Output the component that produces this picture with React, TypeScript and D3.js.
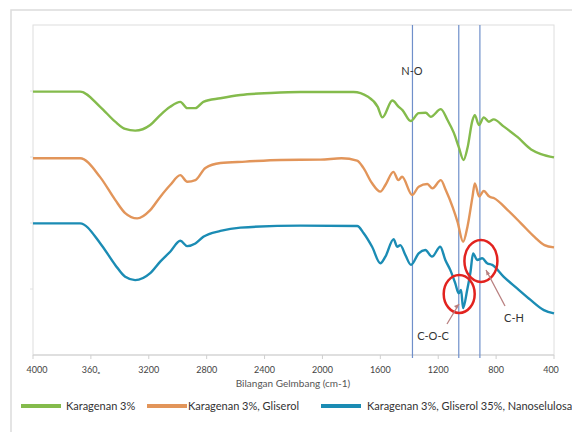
import React from "react";
import * as d3 from "d3";

// wavenumber (cm-1) and relative transmittance (arbitrary units)
const greenWn = [4000, 3675, 3536, 3432, 3363, 3294, 3190, 3121, 3052, 2982, 2934, 2878, 2823, 2705, 2567, 2359, 2152, 2013, 1785, 1688, 1618, 1586, 1517, 1473, 1447, 1390, 1335, 1286, 1252, 1182, 1136, 1092, 1058, 1025, 998, 963, 947, 919, 885, 850, 817, 746, 651, 558, 490, 400];
const greenT = [79.8, 79.8, 75.2, 70.7, 68.5, 68.0, 69.7, 72.7, 75.2, 76.7, 74.8, 74.8, 76.7, 77.8, 78.8, 79.4, 79.7, 79.7, 79.7, 78.3, 75.2, 72.0, 77.1, 75.2, 74.2, 70.9, 73.3, 73.4, 72.2, 74.5, 71.2, 67.3, 63.0, 59.1, 62.7, 71.2, 72.7, 69.7, 72.0, 70.7, 71.4, 69.2, 66.0, 62.3, 60.9, 59.9];

const orangeWn = [4000, 3675, 3536, 3432, 3363, 3280, 3190, 3121, 3052, 2982, 2934, 2878, 2809, 2705, 2532, 2290, 2013, 1868, 1761, 1717, 1658, 1600, 1565, 1510, 1475, 1450, 1380, 1335, 1275, 1240, 1182, 1148, 1101, 1067, 1028, 998, 963, 947, 917, 886, 847, 813, 720, 628, 535, 466, 400];
const orangeT = [59.6, 59.6, 53.9, 47.0, 43.0, 41.4, 43.9, 47.9, 51.5, 54.5, 52.5, 53.0, 56.7, 58.2, 58.6, 59.1, 59.2, 59.6, 58.9, 56.7, 52.1, 49.5, 51.5, 55.5, 53.0, 54.0, 48.5, 51.0, 51.8, 50.5, 53.0, 50.0, 44.9, 40.4, 34.3, 38.9, 48.0, 52.0, 48.0, 49.7, 48.0, 47.5, 43.9, 39.9, 35.8, 33.3, 32.6];

const blueWn = [4000, 3675, 3536, 3432, 3363, 3294, 3190, 3121, 3052, 2982, 2934, 2878, 2823, 2705, 2567, 2152, 1760, 1715, 1657, 1600, 1565, 1508, 1484, 1462, 1427, 1388, 1335, 1289, 1243, 1186, 1151, 1117, 1082, 1059, 1042, 1028, 1000, 977, 959, 931, 896, 862, 827, 747, 655, 562, 470, 400];
const blueT = [39.9, 39.9, 33.9, 27.3, 23.7, 22.7, 24.8, 28.3, 31.3, 34.6, 33.0, 33.8, 35.8, 37.6, 38.6, 39.2, 39.1, 36.9, 32.8, 27.8, 29.8, 35.1, 32.8, 33.3, 30.3, 27.3, 30.8, 31.8, 29.8, 32.8, 28.8, 25.8, 21.7, 18.7, 19.7, 14.2, 19.7, 25.2, 30.8, 28.8, 29.3, 27.8, 27.3, 23.7, 20.2, 16.7, 13.6, 12.6];

const seriesNames = ["Karagenan 3%", "Karagenan 3%, Gliserol", "Karagenan 3%, Gliserol 35%, Nanoselulosa"];
const seriesColors = ["#84bb4c", "#e2955a", "#1b8cb4"];

const xTicks = [4000, 3600, 3200, 2800, 2400, 2000, 1600, 1200, 800, 400];
const xTickLabels = ["4000", "360\u2093", "3200", "2800", "2400", "2000", "1600", "1200", "800", "400"];
const markerLines = [1378, 1058, 912];
const xTitle = "Bilangan Gelmbang (cm-1)";

const W = 572, H = 432;
const L = 33, R = 554, T = 25, B = 355;
const FONT = "Lato, 'Open Sans', sans-serif";

export default function App() {
  const x = d3.scaleLinear().domain([4000, 400]).range([L, R]);
  const y = d3.scaleLinear().domain([0, 100]).range([B, T]);
  const line = d3
    .line<[number, number]>()
    .x((d) => x(d[0]))
    .y((d) => y(d[1]))
    .curve(d3.curveMonotoneX);

  const series = [
    greenWn.map((w, i) => [w, greenT[i]] as [number, number]),
    orangeWn.map((w, i) => [w, orangeT[i]] as [number, number]),
    blueWn.map((w, i) => [w, blueT[i]] as [number, number]),
  ];

  const gridY = [20, 40, 60, 80];

  const legendItems = [
    { sx: 21, tx: 66 },
    { sx: 147, tx: 188 },
    { sx: 321, tx: 367 },
  ];
  const legendY = 406;

  return (
    <svg width={W} height={H} style={{ position: "absolute", left: 0, top: 0, background: "#fff" }} fontFamily={FONT}>
      <rect x={11} y={10} width={620} height={500} fill="none" stroke="#dcdcdc" strokeWidth={1.5} />
      <rect x={L} y={T} width={R - L} height={B - T} fill="#fff" stroke="#dedede" strokeWidth={1} />
      {gridY.map((g) => (
        <line key={g} x1={L - 3} x2={L} y1={y(g)} y2={y(g)} stroke="#e0e0e0" />
      ))}
      {xTicks.map((t) => (
        <line key={t} x1={x(t)} x2={x(t)} y1={B} y2={B + 4} stroke="#cfcfcf" />
      ))}
      <line x1={L} x2={R} y1={B} y2={B} stroke="#cfcfcf" strokeWidth={1.2} />
      {markerLines.map((m) => (
        <line key={m} x1={x(m)} x2={x(m)} y1={T} y2={B + 3} stroke="#6f8fca" strokeWidth={1.2} />
      ))}
      {series.map((s, i) => (
        <path key={i} d={line(s) || ""} fill="none" stroke={seriesColors[i]} strokeWidth={2.4} strokeLinejoin="round" />
      ))}
      {xTicks.map((t, i) => (
        <text key={t} x={x(t) + (i === 0 ? 4 : i === xTicks.length - 1 ? -3 : 0)} y={373} fontSize={9} fill="#444" textAnchor="middle">
          {xTickLabels[i]}
        </text>
      ))}
      <text x={293} y={387} fontSize={10} fill="#555" textAnchor="middle">{xTitle}</text>

      <text x={412} y={75} fontSize={11} fill="#333" textAnchor="middle">N-O</text>

      <ellipse cx={x(1055)} cy={y(18.5)} rx={15.5} ry={19} fill="none" stroke="#e2231f" strokeWidth={2.5} />
      <ellipse cx={x(905)} cy={y(28.5)} rx={16.5} ry={21} fill="none" stroke="#e2231f" strokeWidth={2.5} />
      <line x1={447} y1={324} x2={459} y2={304} stroke="#b98080" strokeWidth={1.3} />
      <path d="M459,304 l-5,2 l3,3 z" fill="#b98080" />
      <line x1={505} y1={306} x2={486} y2={270} stroke="#b98080" strokeWidth={1.3} />
      <path d="M486,270 l0.5,5.5 l3.5,-2 z" fill="#b98080" />
      <text x={433} y={340} fontSize={11} fill="#333" textAnchor="middle">C-O-C</text>
      <text x={514} y={322} fontSize={11} fill="#333" textAnchor="middle">C-H</text>

      {legendItems.map((it, i) => (
        <g key={i}>
          <line x1={it.sx} x2={it.sx + 40} y1={legendY} y2={legendY} stroke={seriesColors[i]} strokeWidth={4} />
          <text x={it.tx} y={legendY + 4} fontSize={11} fill="#333">{seriesNames[i]}</text>
        </g>
      ))}
    </svg>
  );
}
